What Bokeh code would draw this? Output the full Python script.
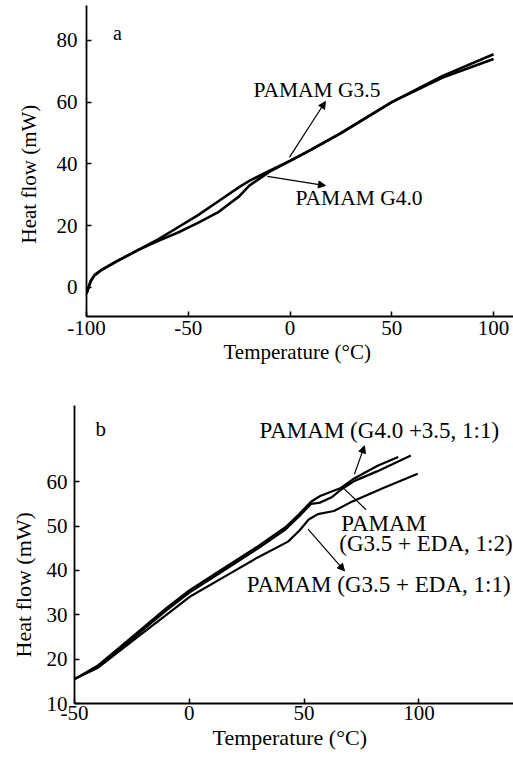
from bokeh.plotting import figure
from bokeh.models import Label, Arrow, NormalHead, FixedTicker, Title
from bokeh.embed import file_html
from bokeh.resources import INLINE

# ---------------- data: panel a ----------------
temp_a = [-100, -98, -96, -93, -85, -75, -65, -55, -45, -35, -25, -20, -10, 0, 10, 25, 50, 75, 100]
g35_a = [-2, 2, 4, 5.5, 8.5, 12, 15.5, 19.5, 23.5, 28, 32.5, 34.5, 37.8, 41, 44.5, 50, 60, 68.5, 75.5]
g40_a = [-2, 2, 4, 5.5, 8.5, 12, 15, 17.8, 21, 24.5, 29.5, 33, 37.5, 41, 44.5, 50, 60, 68, 74]
xticks_a = [-100, -50, 0, 50, 100]
xtick_labels_a = ["-100", "-50", "0", "50", "100"]
yticks_a = [0, 20, 40, 60, 80]
ytick_labels_a = ["0", "20", "40", "60", "80"]

# ---------------- data: panel b ----------------
temp_b1 = [-50, -40, -25, -10, 0, 15, 30, 42, 48, 53, 57, 62, 66, 72, 82, 91]
mix_g40_g35 = [15.5, 18.5, 25, 31.5, 35.5, 40.5, 45.5, 49.8, 52.8, 55.5, 56.8, 57.8, 58.6, 60.8, 63.6, 65.6]
temp_b2 = [-50, -40, -25, -10, 0, 15, 30, 42, 48, 53, 57, 62, 66, 72, 82, 96.5]
g35_eda_12 = [15.5, 18.3, 24.5, 31, 35, 40, 45, 49.3, 52.3, 55, 55.3, 56.5, 58.2, 60.2, 62.4, 65.9]
temp_b3 = [-50, -40, -25, -10, 0, 15, 30, 43, 48, 52, 56, 63, 70, 85, 99.5]
g35_eda_11 = [15.5, 18, 24, 30, 34, 38.5, 43, 46.5, 49, 51.5, 52.7, 53.4, 55.3, 58.7, 61.8]
xticks_b = [-50, 0, 50, 100]
xtick_labels_b = ["-50", "0", "50", "100"]
yticks_b = [10, 20, 30, 40, 50, 60]
ytick_labels_b = ["10", "20", "30", "40", "50", "60"]

FONT = "Liberation Serif"


def style_axes(p, xt, xl, yt, yl, fs, ystand, xstand):
    for ax in (p.xaxis[0], p.yaxis[0]):
        ax.axis_line_color = "black"
        ax.axis_line_width = 1.8
        ax.major_tick_line_color = "black"
        ax.major_tick_line_width = 1.5
        ax.major_tick_in = 5
        ax.major_tick_out = 0
        ax.minor_tick_line_color = None
        ax.major_label_text_font = FONT
        ax.major_label_text_font_size = fs
        ax.major_label_text_color = "black"
    p.xaxis[0].ticker = FixedTicker(ticks=xt)
    p.xaxis[0].major_label_overrides = {t: s for t, s in zip(xt, xl)}
    p.yaxis[0].ticker = FixedTicker(ticks=yt)
    p.yaxis[0].major_label_overrides = {t: s for t, s in zip(yt, yl)}
    p.yaxis[0].major_label_standoff = ystand
    p.xaxis[0].major_label_standoff = xstand
    p.xgrid.visible = False
    p.ygrid.visible = False
    p.outline_line_color = None


def add_label(p, x, y, text, fs, align="left"):
    p.add_layout(Label(x=x, y=y, text=text, text_font=FONT, text_font_size=fs,
                       text_color="black", text_align=align, text_baseline="middle"))


def add_title(p, text, side, offset, fs, standoff=2, valign="bottom"):
    p.add_layout(Title(text=text, align="left", offset=offset, text_font=FONT,
                       text_font_size=fs, text_font_style="normal", text_color="black",
                       standoff=standoff, vertical_align=valign), side)


def add_arrow(p, x0, y0, x1, y1, head=True):
    end = NormalHead(size=7, fill_color="black", line_color="black", line_width=1) if head else None
    p.add_layout(Arrow(end=end, x_start=x0, y_start=y0, x_end=x1, y_end=y1,
                       line_color="black", line_width=1.2))


# ---------------- panel a ----------------
pa = figure(width=513, height=380, x_range=(-100, 109.8), y_range=(-9.4, 91.3),
            output_backend="svg", toolbar_location=None,
            min_border_left=86, min_border_right=0, min_border_top=5, min_border_bottom=64)
pa.background_fill_color = "white"
style_axes(pa, xticks_a, xtick_labels_a, yticks_a, ytick_labels_a, "21px", 9, 4)
pa.line(temp_a, g35_a, line_color="black", line_width=2.6)
pa.line(temp_a, g40_a, line_color="black", line_width=2.6)

add_label(pa, -84.8, 82.3, "a", "20px", align="center")
add_label(pa, -18, 63.8, "PAMAM G3.5", "21.5px")
add_label(pa, 2.7, 29.1, "PAMAM G4.0", "21.5px")
add_arrow(pa, -0.3, 42.1, 17.4, 60.2)
add_arrow(pa, -11.1, 36.0, 17.4, 33.0)
add_title(pa, "Heat flow (mW)", "left", 73, "21px", standoff=26)
add_title(pa, "Temperature (\u00b0C)", "below", 137, "21px", standoff=0)

# ---------------- panel b ----------------
pb = figure(width=513, height=376, x_range=(-50, 141.2), y_range=(10, 77.2),
            output_backend="svg", toolbar_location=None,
            min_border_left=72, min_border_right=0, min_border_top=25, min_border_bottom=53)
pb.background_fill_color = "white"
style_axes(pb, xticks_b, xtick_labels_b, yticks_b, ytick_labels_b, "21px", 7, 2)
pb.line(temp_b1, mix_g40_g35, line_color="black", line_width=2.2)
pb.line(temp_b2, g35_eda_12, line_color="black", line_width=2.2)
pb.line(temp_b3, g35_eda_11, line_color="black", line_width=2.2)

add_label(pb, -38.6, 71.9, "b", "21px", align="center")
add_label(pb, 30.6, 71.5, "PAMAM (G4.0 +3.5, 1:1)", "23px")
add_label(pb, 66.2, 50.6, "PAMAM", "23px")
add_label(pb, 65.3, 46.0, "(G3.5 + EDA, 1:2)", "23px")
add_label(pb, 25.0, 36.9, "PAMAM (G3.5 + EDA, 1:1)", "23px")
add_arrow(pb, 71.9, 61.7, 76.3, 68.1)
add_arrow(pb, 67.5, 58.4, 77.0, 53.7, head=False)
add_arrow(pb, 51.7, 49.3, 67.6, 39.9)
add_title(pb, "Heat flow (mW)", "left", 46, "22px", standoff=16)
add_title(pb, "Temperature (\u00b0C)", "below", 138, "22px", standoff=0)

open("out.html", "w").write(file_html([pa, pb], INLINE))
